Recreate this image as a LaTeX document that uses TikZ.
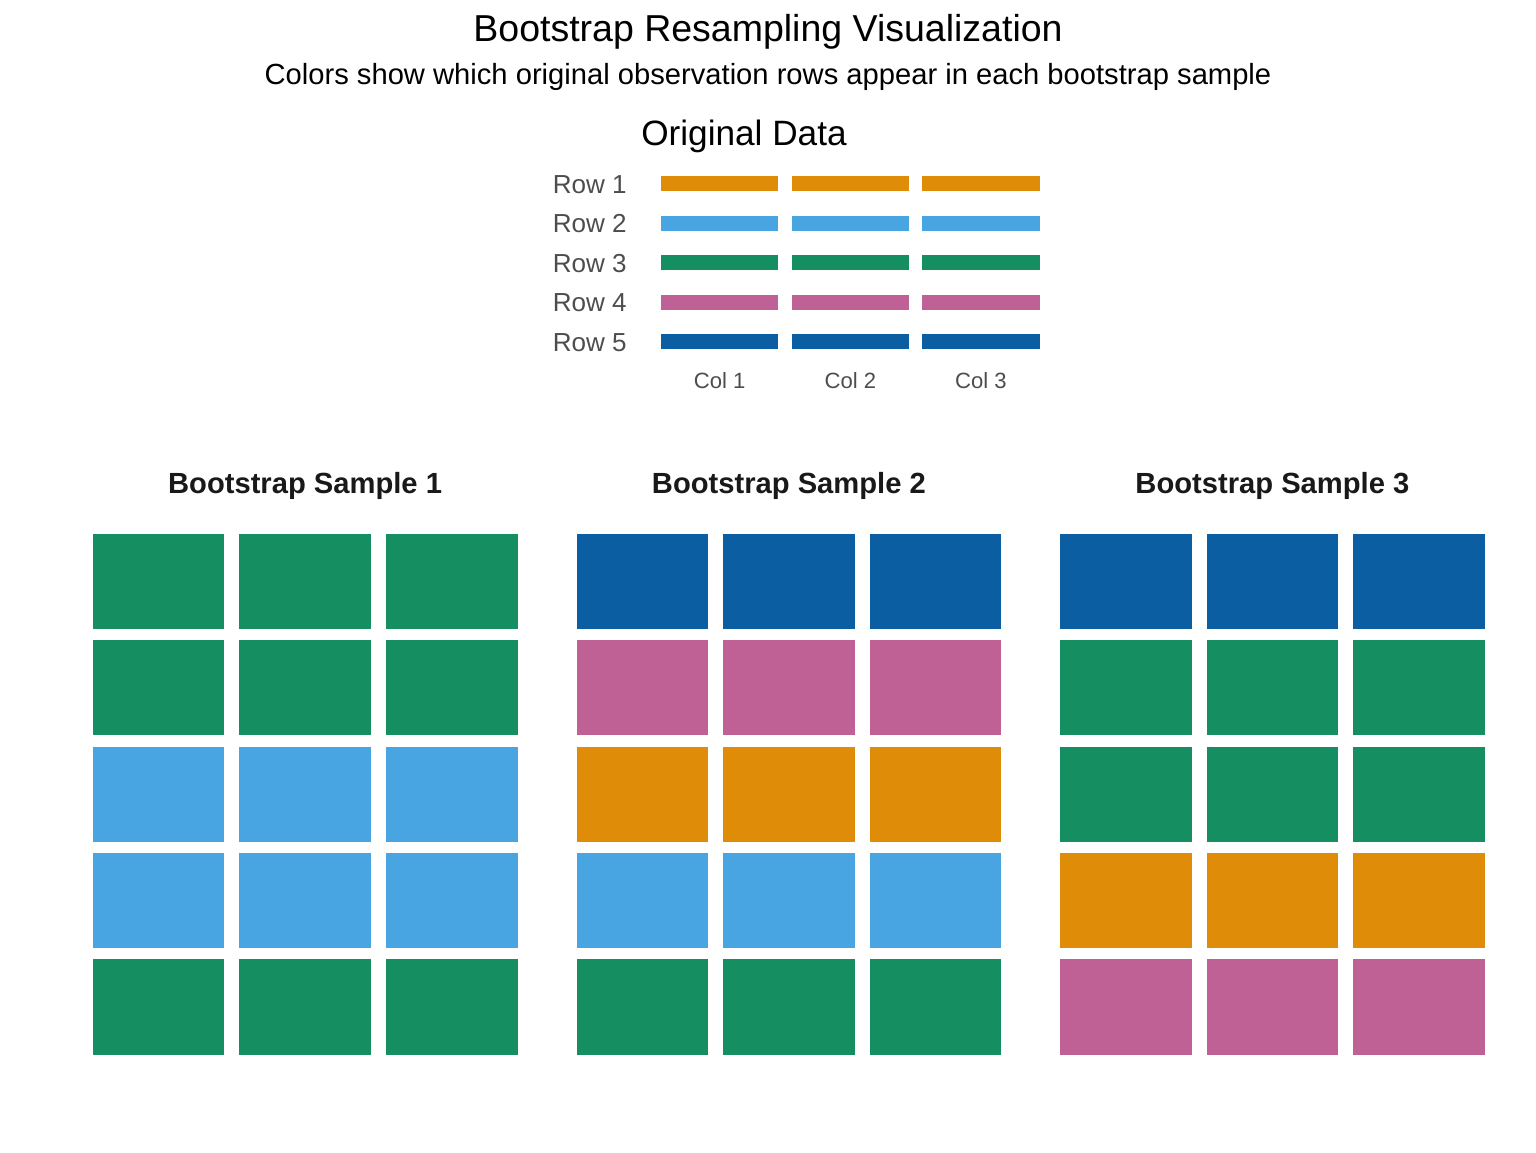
\documentclass[tikz,border=0pt]{standalone}
\usepackage{fontspec}
\setmainfont{Liberation Sans}
\definecolor{cOr}{HTML}{DF8D09}
\definecolor{cSk}{HTML}{49A4E2}
\definecolor{cGr}{HTML}{158F62}
\definecolor{cPk}{HTML}{BF6195}
\definecolor{cBl}{HTML}{0B5EA2}
\definecolor{lab}{HTML}{4D4D4D}
\tikzset{
  bar/.style={rectangle, inner sep=0pt, minimum width=56.35pt, minimum height=7.2pt, fill=#1},
  tile/.style={rectangle, inner sep=0pt, minimum width=63.17pt, minimum height=45.74pt, fill=#1},
  rowlab/.style={anchor=base east, inner sep=0pt, text=lab, font=\fontsize{12.5}{14}\selectfont},
  collab/.style={anchor=base, inner sep=0pt, text=lab, font=\fontsize{10.6}{12}\selectfont},
  stitle/.style={anchor=base, inner sep=0pt, text=black!90, font=\fontsize{14}{16}\selectfont\bfseries},
}
\begin{document}
\begin{tikzpicture}[x=0.48pt,y=-0.48pt]
\useasboundingbox (0,0) rectangle (1536,1152);
\node[anchor=base, inner sep=0pt, font=\fontsize{18}{20}\selectfont] (title) at (768,41.5) {Bootstrap Resampling Visualization};
\node[anchor=base, inner sep=0pt, font=\fontsize{14}{16}\selectfont] (subtitle) at (768,84.3) {Colors show which original observation rows appear in each bootstrap sample};
\node[anchor=base, inner sep=0pt, font=\fontsize{16.9}{18}\selectfont] (origtitle) at (744,145) {Original Data};
% original data
\foreach \r/\c in {1/cOr,2/cSk,3/cGr,4/cPk,5/cBl}{
  \node[rowlab] (row\r) at (627,{193.3+(\r-1)*39.5}) {Row \r};
  \foreach \k/\x in {1/719.65,2/850.35,3/981}{
    \node[bar=\c] (o\r c\k) at (\x,{183.8+(\r-1)*39.5}) {};
  }
}
\foreach \k/\x in {1/719.65,2/850.35,3/981}{
  \node[collab] (col\k) at (\x,388.3) {Col \k};
}
% bootstrap samples
\foreach \s/\sx/\cols in {1/158.5/{cGr,cGr,cSk,cSk,cGr},2/642.3/{cBl,cPk,cOr,cSk,cGr},3/1125.8/{cBl,cGr,cGr,cOr,cPk}}{
  \node[stitle] (st\s) at ({\sx+146.6},493) {Bootstrap Sample \s};
  \foreach \c [count=\r] in \cols {
    \foreach \k in {1,2,3}{
      \node[tile=\c] (s\s r\r c\k) at ({\sx+(\k-1)*146.6},{581.35+(\r-1)*106.4}) {};
    }
  }
}
\end{tikzpicture}
\end{document}
